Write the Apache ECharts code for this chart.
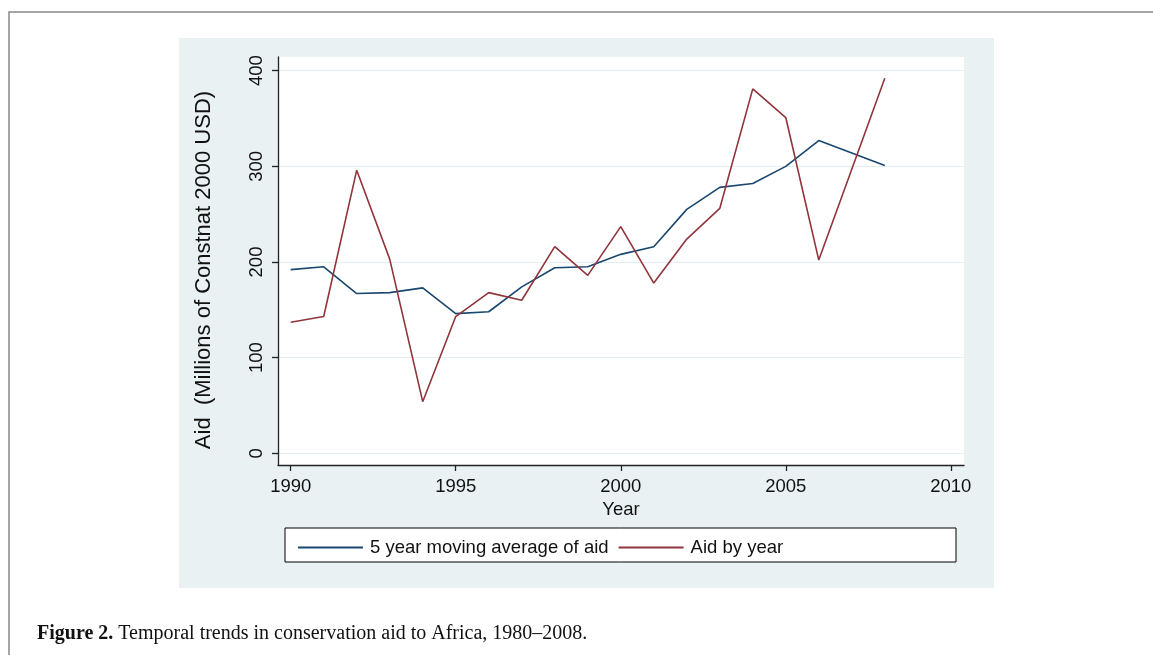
<!DOCTYPE html>
<html>
<head>
<meta charset="utf-8">
<script src="https://cdn.jsdelivr.net/npm/echarts@6/dist/echarts.min.js"></script>
<style>html,body{margin:0;padding:0;background:#fff}#c{width:1153px;height:655px}</style>
</head>
<body>
<div id="c"></div>
<script>
const years = [1990,1991,1992,1993,1994,1995,1996,1997,1998,1999,2000,2001,2002,2003,2004,2005,2006,2007,2008];
const movingAvg = [192,195,167,168,173,146,148,174,194,195,208,216,255,278,282,300,327,314,301];
const aidByYear = [137,143,296,203,54,143,168,160,216,186,237,178,224,256,381,351,202,297,392];
const xTicks = [1990,1995,2000,2005,2010];
const yTicks = [0,100,200,300,400];
const seriesNames = ['5 year moving average of aid','Aid by year'];

const chart = echarts.init(document.getElementById('c'));
const axisColor = '#222';
const font = 'Liberation Sans';
chart.setOption({
  animation: false,
  backgroundColor: '#fff',
  graphic: [
    {type:'rect', shape:{x:9,y:12,width:1170,height:670}, style:{fill:'none',stroke:'#888',lineWidth:1.5}, z:-10},
    {type:'rect', shape:{x:179,y:38,width:815,height:550}, style:{fill:'#e9f1f2'}, z:-9},
    {type:'rect', shape:{x:278,y:57,width:686,height:408}, style:{fill:'#fff'}, z:-8},
    {type:'rect', shape:{x:285,y:528,width:671,height:34}, style:{fill:'#fff',stroke:'#000',lineWidth:1}, z:-7},
    {type:'text', left:37, top:624, style:{
      text:'{b|Figure 2.} Temporal trends in conservation aid to Africa, 1980–2008.',
      rich:{b:{fontWeight:'bold',fontFamily:'Liberation Serif',fontSize:20,fill:'#111'}},
      fontFamily:'Liberation Serif', fontSize:20, fill:'#111'}}
  ],
  grid: {left:278, right:189, top:57, bottom:190, containLabel:false},
  legend: {
    left:293, top:533, itemWidth:65, itemHeight:2, itemGap:10, icon:'rect',
    textStyle:{fontFamily:font,fontSize:18.5,color:'#111',padding:[0,0,0,2]},
    data: seriesNames
  },
  xAxis: {
    type:'value', min:1989.615, max:2010.4,
    name:'Year', nameLocation:'middle', nameGap:32,
    nameTextStyle:{fontFamily:font,fontSize:18.5,color:'#111'},
    axisLine:{show:true,onZero:false,lineStyle:{color:axisColor,width:1.3}},
    axisTick:{show:true,length:6,customValues:xTicks,lineStyle:{color:axisColor,width:1.3}},
    axisLabel:{customValues:xTicks,formatter:v=>String(v),fontFamily:font,fontSize:18.5,color:'#111',margin:12},
    splitLine:{show:false}
  },
  yAxis: {
    type:'value', min:-12.2, max:414.3,
    name:'Aid  (Millions of Constnat 2000 USD)', nameLocation:'middle', nameGap:63, nameRotate:90,
    nameTextStyle:{fontFamily:font,fontSize:22,color:'#111',padding:[0,18,0,0]},
    axisLine:{show:true,onZero:false,lineStyle:{color:axisColor,width:1.3}},
    axisTick:{show:true,length:6,customValues:yTicks,lineStyle:{color:axisColor,width:1.3}},
    axisLabel:{customValues:yTicks,formatter:v=>String(v),rotate:90,fontFamily:font,fontSize:18.5,color:'#111',margin:12},
    splitLine:{show:true,lineStyle:{color:'#e3eef2',width:1.2}}
  },
  series: [
    {name:seriesNames[0], type:'line', data:years.map((y,i)=>[y,movingAvg[i]]), showSymbol:false, symbol:'none',
     lineStyle:{color:'#1a476f',width:1.6}, itemStyle:{color:'#1a476f'}},
    {name:seriesNames[1], type:'line', data:years.map((y,i)=>[y,aidByYear[i]]), showSymbol:false, symbol:'none',
     lineStyle:{color:'#90353b',width:1.6}, itemStyle:{color:'#90353b'}}
  ]
});
</script>
</body>
</html>
